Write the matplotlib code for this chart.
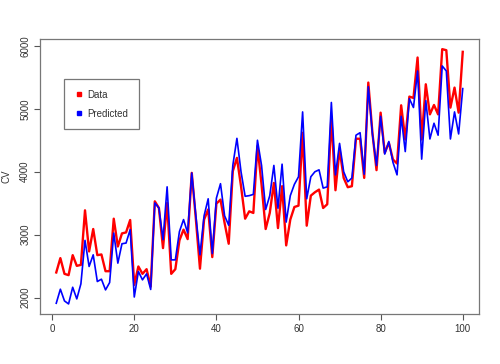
import matplotlib
matplotlib.use("Agg")
import matplotlib.pyplot as plt
from matplotlib.lines import Line2D
import numpy as np

plt.rcParams['font.family'] = ['Liberation Sans', 'DejaVu Sans']

index = list(range(1, 101))
data = [2400, 2628, 2378, 2357, 2675, 2505, 2520, 3387, 2734, 3090,
        2675, 2686, 2420, 2420, 3254, 2813, 3020, 3036, 3233, 2203,
        2495, 2378, 2452, 2176, 3530, 3424, 2787, 3504, 2378, 2452,
        2910, 3080, 2930, 3982, 3250, 2460, 3240, 3400, 2644, 3493,
        3557, 3185, 2856, 4009, 4220, 3770, 3254, 3371, 3345, 4407,
        3796, 3090, 3345, 3822, 3105, 3770, 2830, 3240, 3440, 3461,
        4619, 3143, 3620, 3674, 3716, 3424, 3483, 4858, 3706, 4354,
        3902, 3754, 3770, 4524, 4524, 3902, 5416, 4619, 4025, 4938,
        4300, 4460, 4194, 4130, 5055, 4513, 5193, 5172, 5814, 4513,
        5389, 4911, 5060, 4911, 5947, 5930, 5018, 5336, 4938, 5904]
predicted = [1911, 2134, 1948, 1900, 2165, 1980, 2219, 2910, 2495, 2680,
             2256, 2293, 2123, 2240, 3026, 2548, 2856, 2867, 3080, 2010,
             2415, 2283, 2378, 2130, 3504, 3424, 2920, 3760, 2600, 2600,
             3050, 3240, 3030, 3980, 3300, 2680, 3300, 3570, 2700, 3580,
             3810, 3300, 3150, 4100, 4530, 4000, 3610, 3620, 3640, 4500,
             4100, 3400, 3620, 4100, 3420, 4120, 3200, 3620, 3800, 3920,
             4950, 3570, 3920, 4000, 4030, 3740, 3760, 5100, 3950, 4450,
             4000, 3840, 3900, 4580, 4620, 3960, 5350, 4600, 4100, 4880,
             4280, 4480, 4150, 3950, 4880, 4320, 5160, 5020, 5600, 4200,
             5130, 4520, 4770, 4580, 5680, 5600, 4520, 4950, 4600, 5320]
x_ticks = [0, 20, 40, 60, 80, 100]
y_ticks = [2000, 3000, 4000, 5000, 6000]

fig = plt.figure(figsize=(5.0, 3.64), dpi=100)
ax = fig.add_axes([0.08, 0.137, 0.878, 0.756])

ax.plot(index, data, color='#ff0000', lw=1.7, zorder=2)
ax.plot(index, predicted, color='#0000ff', lw=1.2, zorder=3)

ax.set_xlim(-2.96, 103.96)
allv = data + predicted
lo, hi = min(allv), max(allv)
pad = (hi - lo) * 0.04
ax.set_ylim(lo - pad, hi + pad)

ax.set_xticks(x_ticks)
ax.set_yticks(y_ticks)
ax.set_yticklabels([str(v) for v in y_ticks], rotation=90, va='center')
ax.tick_params(axis='both', direction='out', length=4, width=0.8,
               colors='#555555', labelsize=7, labelcolor='#333333', pad=3)
for s in ax.spines.values():
    s.set_color('#777777')
    s.set_linewidth(0.9)
ax.set_ylabel('CV', fontsize=7, color='#333333', labelpad=6)

handles = [Line2D([], [], marker='s', color='#ff0000', ls='none', markersize=3),
           Line2D([], [], marker='s', color='#0000ff', ls='none', markersize=3)]
leg = ax.legend(handles, ['Data', 'Predicted'], loc='upper left',
                bbox_to_anchor=(0.055, 0.855), fontsize=7, frameon=True,
                fancybox=False, borderpad=1.1, labelspacing=0.95,
                handletextpad=0.4, handlelength=0.9, borderaxespad=0)
leg.get_frame().set_edgecolor('#555555')
leg.get_frame().set_linewidth(0.9)
for t in leg.get_texts():
    t.set_color('#333333')

fig.savefig('out.png', dpi=100)
